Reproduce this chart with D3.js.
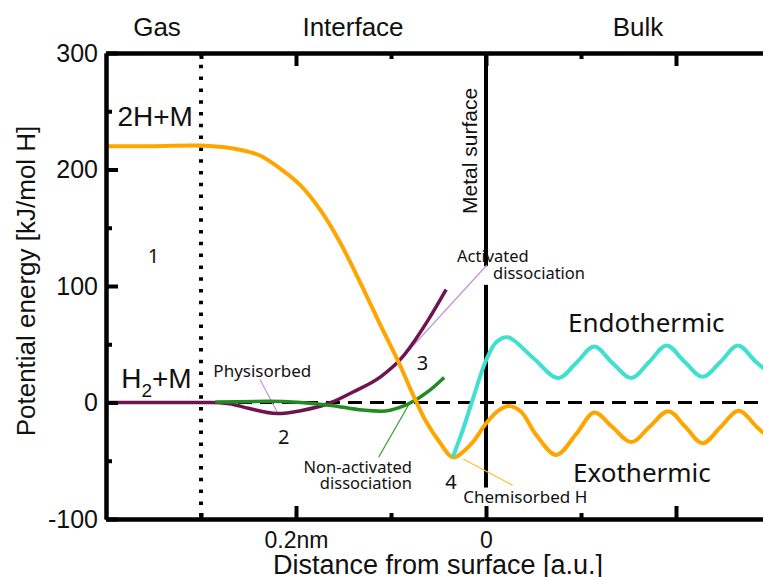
<!DOCTYPE html>
<html>
<head>
<meta charset="utf-8">
<script src="https://cdn.jsdelivr.net/npm/d3@7"></script>
<style>
  body { margin: 0; background: #fff; }
  svg { display: block; }
  .axis path, .axis line { stroke: #000; }
  .axis text { font-family: "Liberation Sans", Arial, sans-serif; fill: #111; }
  .note { font-family: "Noto Sans", "Open Sans", sans-serif; fill: #111; }
  .big { font-family: "Liberation Sans", Arial, sans-serif; fill: #111; }
</style>
</head>
<body>
<div id="chart"></div>
<script>
// Data in chart units: x = distance (a.u., 0 = metal surface), y = kJ/mol H
var orangeX = [-3.98, -3.5, -3.0, -2.59, -2.38, -2.17, -1.96, -1.75, -1.54, -1.33, -1.12, -0.905, -0.77, -0.64, -0.48, -0.35, -0.16, 0, 0.13, 0.24, 0.37, 0.53, 0.74, 0.95, 1.14, 1.33, 1.53, 1.72, 1.92, 2.10, 2.28, 2.47, 2.66, 2.85, 3.04];
var orangeY = [220, 220, 220.5, 217, 212, 201, 187, 166, 138, 104, 68, 32, 7, -15, -35, -47, -36, -18, -7, -3, -8, -28, -45, -27, -8.5, -21, -34, -21, -7.5, -21, -35, -21, -7, -21, -35];

var cyanX = [-0.35, -0.25, -0.15, 0, 0.11, 0.23, 0.5, 0.76, 0.95, 1.14, 1.33, 1.53, 1.72, 1.9, 2.09, 2.28, 2.47, 2.65, 2.84, 3.03];
var cyanY = [-47, -25, 0, 36, 52, 56, 38, 21, 34, 48, 34, 21, 35, 49, 35, 22, 35, 49, 35, 22];

var purpleX = [-3.98, -2.9, -2.7, -2.5, -2.2, -1.95, -1.63, -1.4, -1.11, -0.89, -0.76, -0.6, -0.42];
var purpleY = [0, 0, -1, -5, -9.5, -7, 0, 9, 22, 38, 52, 72, 97];

var greenX = [-2.85, -2.3, -1.95, -1.63, -1.3, -1.1, -0.9, -0.79, -0.6, -0.44];
var greenY = [0.5, 1, 0, -2.5, -6.5, -7.5, -4, 0, 10, 21.5];

var yMajor = [-100, 0, 100, 200, 300];
var yMinor = [-50, 50, 150, 250];
var xMajor = [-2, 0, 2];
var xMinor = [-3, -1, 1, 3];
var xTickLabels = {"-2": "0.2nm", "0": "0"};

var svgWidth = 763;
var svgHeight = 577;

var svg = d3.select("#chart")
  .append("svg")
  .attr("width", svgWidth)
  .attr("height", svgHeight);

var x = d3.scaleLinear().domain([-4, 3.3]).range([106, 106 + 7.3 * 95]);
var y = d3.scaleLinear().domain([-100, 300]).range([519, 53]);

function pts(xs, ys) {
  return xs.map(function(v, i) { return [v, ys[i]]; });
}

var line = d3.line()
  .x(d => x(d[0]))
  .y(d => y(d[1]))
  .curve(d3.curveMonotoneX);

var smoothLine = d3.line()
  .x(d => x(d[0]))
  .y(d => y(d[1]))
  .curve(d3.curveCatmullRom.alpha(0.5));

// zero line (dashed)
svg.append("line")
  .attr("x1", x(-4)).attr("x2", x(3.3))
  .attr("y1", y(0)).attr("y2", y(0))
  .attr("stroke", "#000")
  .attr("stroke-width", 3)
  .attr("stroke-dasharray", "14,8");

// gas / interface border (dotted)
svg.append("line")
  .attr("x1", x(-3)).attr("x2", x(-3))
  .attr("y1", y(300)).attr("y2", y(-100))
  .attr("stroke", "#000")
  .attr("stroke-width", 4)
  .attr("stroke-dasharray", "3.5,8.3");

// metal surface line (broken for labels)
[[300, 117], [101, -73]].forEach(function(seg) {
  svg.append("line")
    .attr("x1", x(0)).attr("x2", x(0))
    .attr("y1", y(seg[0])).attr("y2", y(seg[1]))
    .attr("stroke", "#000")
    .attr("stroke-width", 4);
});

// leader lines
var leaders = [
  {a: [-2.38, 20], b: [-2.2, -8], c: "#c890d8"},
  {a: [0.01, 118], b: [-0.905, 36.5], c: "#c890d8"},
  {a: [-1.13, -47], b: [-0.8, 0], c: "#2ca02c"},
  {a: [-0.24, -48.5], b: [0.28, -71], c: "#ffc020"}
];
leaders.forEach(function(l) {
  svg.append("line")
    .attr("x1", x(l.a[0])).attr("y1", y(l.a[1]))
    .attr("x2", x(l.b[0])).attr("y2", y(l.b[1]))
    .attr("stroke", l.c)
    .attr("stroke-width", 1.2);
});

// curves
var curves = [
  {d: pts(purpleX, purpleY), c: "#6e1450", w: 3.5, g: line},
  {d: pts(greenX, greenY), c: "#228b22", w: 3.5, g: line},
  {d: pts(orangeX, orangeY), c: "#ffa500", w: 4, g: smoothLine},
  {d: pts(cyanX, cyanY), c: "#40e0d0", w: 4, g: smoothLine}
];
curves.forEach(function(c) {
  svg.append("path")
    .datum(c.d)
    .attr("fill", "none")
    .attr("stroke", c.c)
    .attr("stroke-width", c.w)
    .attr("stroke-linejoin", "round")
    .attr("d", c.g);
});

// axes
function addAxis(axis, tx, ty, size) {
  var g = svg.append("g")
    .attr("class", "axis")
    .attr("transform", `translate(${tx}, ${ty})`)
    .call(axis);
  g.select(".domain").attr("stroke-width", 4);
  g.selectAll(".tick line").attr("stroke-width", 4);
  g.selectAll("text").style("font-size", size);
  return g;
}

addAxis(d3.axisLeft(y).tickValues(yMajor).tickSizeInner(-12).tickSizeOuter(0).tickPadding(8)
  .tickFormat(d => String(d)), x(-4), 0, "25px");
addAxis(d3.axisLeft(y).tickValues(yMinor).tickSizeInner(-6).tickSizeOuter(0).tickFormat(""), x(-4), 0, "25px");

addAxis(d3.axisBottom(x).tickValues(xMajor).tickSizeInner(-13).tickSizeOuter(0).tickPadding(13)
  .tickFormat(d => xTickLabels[d] || ""), 0, y(-100), "23px");
addAxis(d3.axisBottom(x).tickValues(xMinor).tickSizeInner(-6).tickSizeOuter(0).tickFormat(""), 0, y(-100), "23px");

addAxis(d3.axisTop(x).tickValues(xMajor).tickSizeInner(-13).tickSizeOuter(0).tickFormat(""), 0, y(300), "23px");
addAxis(d3.axisTop(x).tickValues(xMinor).tickSizeInner(-6).tickSizeOuter(0).tickFormat(""), 0, y(300), "23px");

// region titles
[["Gas", 157], ["Interface", 353], ["Bulk", 638]].forEach(function(t) {
  svg.append("text")
    .attr("class", "big")
    .attr("x", t[1]).attr("y", 36)
    .attr("text-anchor", "middle")
    .style("font-size", "26px")
    .text(t[0]);
});

// axis titles
svg.append("text")
  .attr("class", "big")
  .attr("transform", "rotate(-90)")
  .attr("x", -281).attr("y", 35)
  .attr("text-anchor", "middle")
  .style("font-size", "26px")
  .text("Potential energy [kJ/mol H]");

svg.append("text")
  .attr("class", "big")
  .attr("x", 438).attr("y", 574)
  .attr("text-anchor", "middle")
  .style("font-size", "27px")
  .text("Distance from surface [a.u.]");

// annotations (positions in chart units)
var notes = [
  {t: "1", x: -3.56, y: 119.7, s: 20},
  {t: "2", x: -2.19, y: -35.6, s: 20},
  {t: "3", x: -0.73, y: 27.9, s: 20},
  {t: "4", x: -0.43, y: -74.2, s: 20},
  {t: "Physisorbed", x: -2.87, y: 21.9, s: 17},
  {t: "Non-activated", x: -0.78, y: -60.5, s: 16.5, a: "end"},
  {t: "dissociation", x: -0.78, y: -74.2, s: 16.5, a: "end"},
  {t: "Activated", x: -0.305, y: 120.6, s: 16.5},
  {t: "dissociation", x: 0.074, y: 106, s: 16.5},
  {t: "Chemisorbed H", x: -0.24, y: -86.3, s: 17},
  {t: "Endothermic", x: 0.863, y: 60.5, s: 26},
  {t: "Exothermic", x: 0.916, y: -68.2, s: 26}
];
notes.forEach(function(n) {
  svg.append("text")
    .attr("class", "note")
    .attr("x", x(n.x)).attr("y", y(n.y))
    .attr("text-anchor", n.a || "start")
    .style("font-size", n.s + "px")
    .text(n.t);
});

svg.append("text")
  .attr("class", "big")
  .attr("x", x(-3.88)).attr("y", y(237.3))
  .style("font-size", "28px")
  .text("2H+M");

var h2 = svg.append("text")
  .attr("class", "big")
  .attr("x", x(-3.84)).attr("y", y(12.4))
  .style("font-size", "28px");
h2.append("tspan").text("H");
h2.append("tspan").attr("dy", 9).style("font-size", "19px").text("2");
h2.append("tspan").attr("dy", -9).text("+M");

svg.append("text")
  .attr("class", "big")
  .attr("transform", `translate(${x(-0.095)}, ${y(216)}) rotate(-90)`)
  .attr("text-anchor", "middle")
  .style("font-size", "21px")
  .text("Metal surface");
</script>
</body>
</html>
